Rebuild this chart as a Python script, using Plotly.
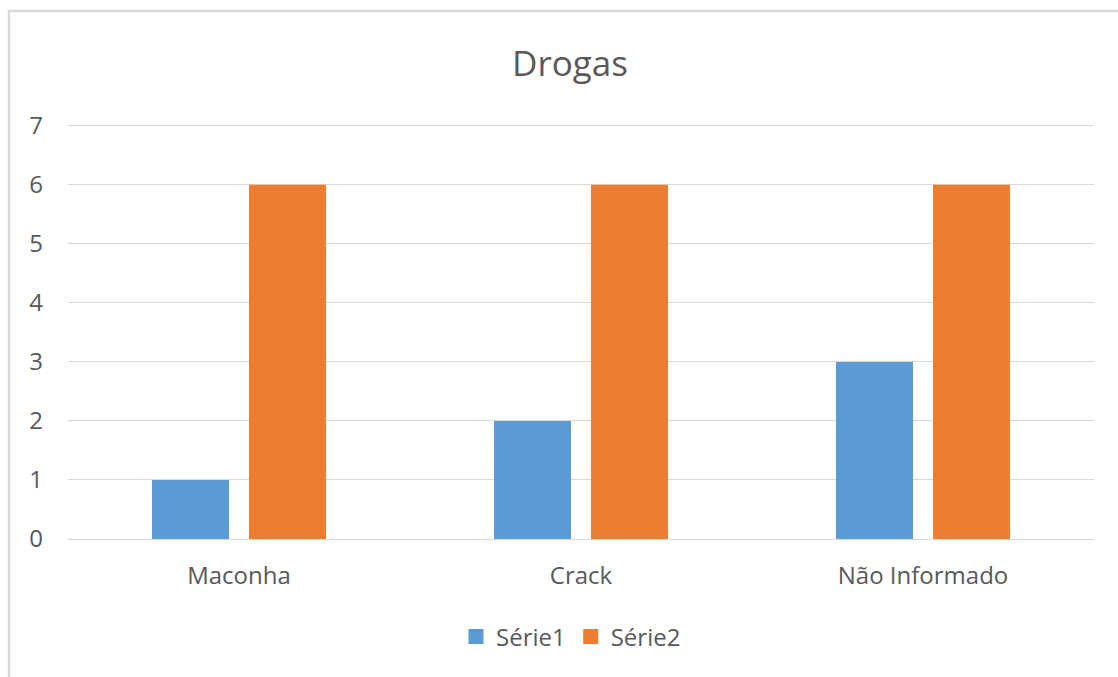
import plotly.graph_objects as go

categories = ["Maconha", "Crack", "Não Informado"]
serie1 = [1, 2, 3]
serie2 = [6, 6, 6]
series_names = ["Série1", "Série2"]
series_colors = ["#5B9BD5", "#ED7D31"]
y_ticks = [0, 1, 2, 3, 4, 5, 6, 7]

W, H = 1118, 677
ML, MR, MT, MB = 68, 24, 124, 138
pw = W - ML - MR
ph = H - MT - MB

FONT = "Open Sans"
TXT = "#595959"
GRID = "#D9D9D9"

fig = go.Figure()
for vals, name, col in zip([serie1, serie2], series_names, series_colors):
    fig.add_trace(go.Bar(x=categories, y=vals, name=name, showlegend=False,
                         marker=dict(color=col, line=dict(width=0))))
for name, col in zip(series_names, series_colors):
    fig.add_trace(go.Scatter(x=[None], y=[None], mode="markers", name=name,
                             marker=dict(symbol="square", size=15, color=col)))

def px_to_paper_x(px):
    return (px - ML) / pw

def py_to_paper_y(py):
    return (H - MB - py) / ph

fig.add_shape(type="rect", xref="paper", yref="paper",
              x0=px_to_paper_x(9), x1=px_to_paper_x(1130),
              y0=py_to_paper_y(700), y1=py_to_paper_y(11),
              line=dict(color=GRID, width=2.5), fillcolor="rgba(0,0,0,0)",
              layer="below")

fig.update_layout(
    width=W, height=H,
    margin=dict(l=ML, r=MR, t=MT, b=MB, autoexpand=False),
    paper_bgcolor="white", plot_bgcolor="white",
    barmode="group", bargap=0.433, bargroupgap=0.206,
    font=dict(family=FONT, color=TXT, size=24),
    title=dict(text="Drogas", x=570 / W, xref="container", xanchor="center",
               y=1 - 64 / H, yref="container", yanchor="middle",
               font=dict(family=FONT, size=35, color=TXT)),
    legend=dict(orientation="h", x=571 / W, xref="container", xanchor="center",
                y=1 - 637 / H, yref="container", yanchor="middle",
                font=dict(family=FONT, size=24, color=TXT),
                itemwidth=30, tracegroupgap=0),
    xaxis=dict(showgrid=False, showline=False, zeroline=False, ticks="",
               tickfont=dict(family=FONT, size=24, color=TXT),
               ticklabelstandoff=20),
    yaxis=dict(range=[0, 7.03], tickvals=y_ticks, showgrid=True, gridcolor=GRID,
               gridwidth=1.3, zeroline=True, zerolinecolor=GRID, zerolinewidth=1.3,
               showline=False, ticks="",
               tickfont=dict(family=FONT, size=24, color=TXT),
               ticklabelstandoff=24),
)

fig.write_html("out.html")
